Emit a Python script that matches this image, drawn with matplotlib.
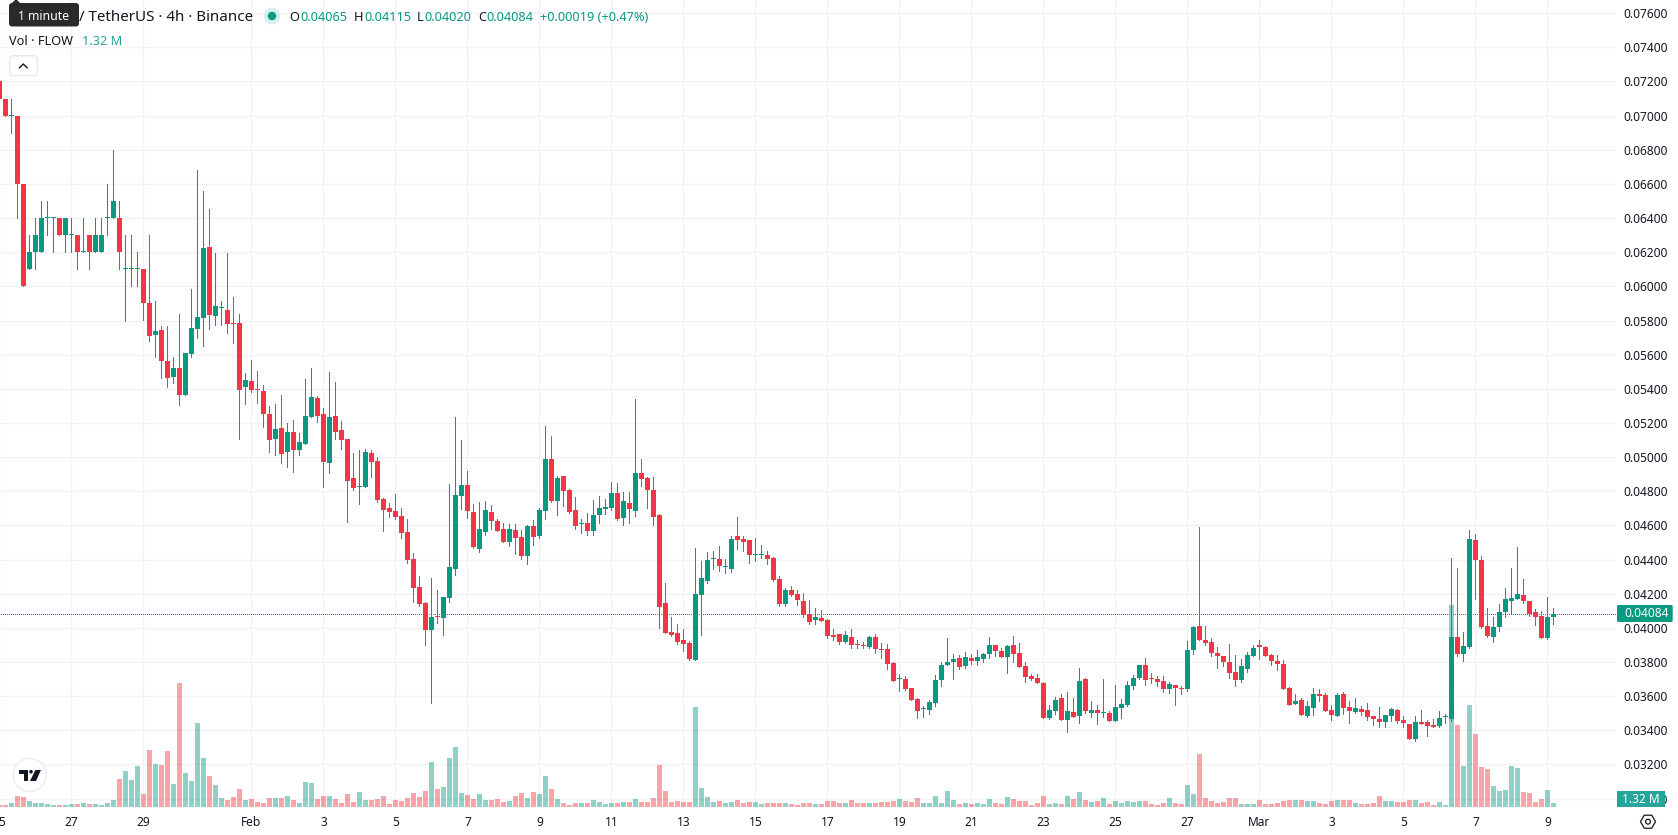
import math

import matplotlib
matplotlib.use("Agg")
import matplotlib.pyplot as plt
from matplotlib.patches import Circle, FancyBboxPatch, Polygon, RegularPolygon, Rectangle

plt.rcParams["font.family"] = ["Noto Sans", "DejaVu Sans"]

# FLOW / USDT 4h candles, prices in units of 0.00001
opens = [
    7200, 7100, 7000, 7000, 6600, 6100, 6200, 6200, 6400, 6400,
    6400, 6300, 6300, 6300, 6200, 6300, 6200, 6200, 6400, 6400,
    6400, 6100, 6100, 6100, 6100, 5900, 5715, 5744, 5562, 5468,
    5521, 5363, 5603, 5750, 5814, 6232, 5826, 5871, 5861, 5784,
    5785, 5410, 5445, 5397, 5386, 5251, 5105, 5169, 5028, 5146,
    5040, 5075, 5233, 5345, 5251, 4964, 5239, 5157, 5105, 4876,
    4827, 4823, 5023, 4976, 4753, 4700, 4682, 4653, 4559, 4404,
    4240, 4146, 3988, 4063, 4058, 4175, 4345, 4773, 4838, 4680,
    4463, 4562, 4680, 4627, 4580, 4504, 4574, 4533, 4422, 4597,
    4539, 4685, 4990, 4744, 4891, 4809, 4691, 4607, 4615, 4568,
    4662, 4697, 4703, 4791, 4645, 4732, 4685, 4908, 4879, 4809,
    4662, 4146, 3976, 3970, 3929, 3911, 3812, 4193, 4275, 4402,
    4404, 4355, 4345, 4539, 4521, 4515, 4425, 4425, 4427, 4410,
    4287, 4140, 4222, 4199, 4158, 4081, 4046, 4058, 4046, 3958,
    3964, 3917, 3946, 3904, 3898, 3888, 3946, 3875, 3876, 3794,
    3698, 3700, 3647, 3583, 3522, 3518, 3559, 3694, 3782, 3800,
    3823, 3776, 3823, 3806, 3817, 3847, 3900, 3864, 3829, 3900,
    3853, 3776, 3718, 3706, 3677, 3471, 3512, 3589, 3460, 3506,
    3483, 3700, 3500, 3518, 3499, 3500, 3454, 3530, 3547, 3659,
    3706, 3782, 3705, 3700, 3688, 3641, 3665, 3646, 3641, 3870,
    4011, 3929, 3917, 3853, 3835, 3800, 3741, 3694, 3759, 3835,
    3900, 3888, 3841, 3806, 3788, 3647, 3553, 3577, 3483, 3530,
    3612, 3606, 3518, 3483, 3612, 3536, 3506, 3524, 3518, 3483,
    3465, 3448, 3483, 3518, 3460, 3436, 3348, 3448, 3448, 3430,
    3424, 3475, 3465, 3946, 3846, 3887, 4515, 4398, 4011, 3946,
    4005, 4093, 4158, 4170, 4193, 4158, 4093, 4070, 3941, 4065,
]
highs = [
    7200, 7100, 7100, 7000, 6600, 6300, 6400, 6500, 6500, 6400,
    6400, 6400, 6400, 6300, 6400, 6300, 6400, 6400, 6600, 6800,
    6500, 6300, 6300, 6200, 6100, 6300, 5914, 5767, 5767, 5586,
    5838, 5609, 5984, 6683, 6560, 6455, 6197, 5914, 6197, 5937,
    5838, 5492, 5568, 5504, 5421, 5298, 5310, 5363, 5198, 5216,
    5140, 5456, 5521, 5357, 5286, 5498, 5439, 5210, 5105, 5023,
    5040, 5046, 5040, 4999, 4759, 4729, 4782, 4700, 4635, 4439,
    4304, 4152, 4292, 4222, 4181, 4844, 5237, 5102, 4920, 4726,
    4738, 4744, 4721, 4638, 4615, 4609, 4609, 4574, 4603, 4632,
    4703, 5184, 5125, 4891, 4891, 4814, 4768, 4638, 4674, 4750,
    4773, 4756, 4856, 4850, 4797, 4797, 5342, 4990, 4885, 4885,
    4668, 4263, 4064, 4023, 3993, 3923, 4468, 4392, 4445, 4451,
    4480, 4404, 4539, 4650, 4539, 4515, 4527, 4486, 4451, 4416,
    4304, 4234, 4246, 4222, 4205, 4163, 4117, 4105, 4052, 3993,
    3964, 3982, 3993, 3929, 3917, 3952, 3964, 3911, 3905, 3800,
    3729, 3718, 3647, 3589, 3542, 3577, 3724, 3800, 3941, 3847,
    3841, 3858, 3847, 3870, 3853, 3946, 3900, 3882, 3900, 3952,
    3911, 3800, 3729, 3729, 3682, 3548, 3595, 3612, 3624, 3589,
    3765, 3706, 3571, 3548, 3700, 3512, 3665, 3583, 3688, 3724,
    3782, 3823, 3735, 3718, 3718, 3682, 3665, 3659, 3923, 4011,
    4592, 4011, 3941, 3888, 3835, 3905, 3841, 3817, 3858, 3900,
    3929, 3894, 3847, 3841, 3812, 3653, 3612, 3589, 3571, 3647,
    3641, 3618, 3548, 3618, 3624, 3571, 3589, 3542, 3559, 3483,
    3536, 3489, 3530, 3524, 3483, 3436, 3483, 3518, 3460, 3465,
    3512, 3495, 4410, 4352, 3975, 4574, 4551, 4421, 4117, 4064,
    4140, 4234, 4352, 4474, 4287, 4158, 4111, 4099, 4181, 4115,
]
lows = [
    7100, 7000, 6900, 6400, 6000, 6100, 6100, 6200, 6300, 6200,
    6300, 6200, 6200, 6100, 6200, 6100, 6200, 6200, 6300, 6400,
    6100, 5800, 6000, 6000, 5803, 5680, 5586, 5462, 5410, 5433,
    5304, 5363, 5586, 5697, 5650, 5750, 5773, 5773, 5726, 5668,
    5105, 5310, 5380, 5316, 5175, 5028, 5011, 4964, 4940, 4911,
    5011, 5075, 5233, 5204, 4823, 4905, 5105, 5046, 4618, 4806,
    4723, 4823, 4882, 4735, 4565, 4647, 4635, 4524, 4377, 4152,
    4128, 3900, 3560, 4029, 3958, 4152, 4310, 4697, 4645, 4468,
    4445, 4545, 4580, 4568, 4504, 4480, 4433, 4404, 4375, 4486,
    4527, 4638, 4738, 4660, 4715, 4674, 4580, 4556, 4545, 4545,
    4615, 4668, 4691, 4633, 4603, 4615, 4656, 4832, 4703, 4603,
    3999, 3970, 3952, 3905, 3864, 3812, 3812, 3958, 4263, 4345,
    4334, 4322, 4328, 4463, 4451, 4380, 4392, 4410, 4375, 4275,
    4128, 4128, 4187, 4134, 4064, 4023, 4023, 4040, 3941, 3929,
    3905, 3911, 3882, 3882, 3882, 3882, 3853, 3823, 3759, 3688,
    3630, 3635, 3577, 3471, 3477, 3495, 3542, 3659, 3782, 3700,
    3759, 3765, 3788, 3782, 3800, 3823, 3835, 3829, 3735, 3800,
    3770, 3682, 3694, 3677, 3471, 3465, 3495, 3460, 3389, 3477,
    3442, 3500, 3477, 3436, 3477, 3454, 3454, 3471, 3542, 3641,
    3700, 3665, 3677, 3659, 3624, 3618, 3548, 3612, 3630, 3847,
    3929, 3900, 3835, 3765, 3776, 3706, 3659, 3682, 3741, 3835,
    3817, 3835, 3782, 3753, 3641, 3548, 3553, 3489, 3477, 3489,
    3571, 3512, 3460, 3483, 3495, 3442, 3500, 3489, 3460, 3430,
    3418, 3418, 3454, 3442, 3418, 3348, 3337, 3436, 3366, 3418,
    3418, 3442, 3454, 3835, 3805, 3881, 4168, 3999, 3946, 3917,
    3982, 4064, 4081, 4170, 4146, 4070, 4017, 3941, 3935, 4020,
]
closes = [
    7100, 7000, 7000, 6600, 6000, 6200, 6300, 6400, 6400, 6400,
    6300, 6400, 6300, 6200, 6200, 6200, 6300, 6300, 6400, 6500,
    6200, 6100, 6100, 6100, 5900, 5710, 5740, 5562, 5462, 5521,
    5363, 5609, 5756, 5820, 6226, 5832, 5885, 5871, 5779, 5782,
    5392, 5451, 5392, 5395, 5251, 5099, 5163, 5017, 5146, 5040,
    5087, 5239, 5350, 5239, 4970, 5233, 5146, 5099, 4858, 4817,
    4827, 5028, 4970, 4747, 4688, 4676, 4647, 4553, 4395, 4234,
    4140, 3988, 4064, 4061, 4181, 4357, 4779, 4838, 4685, 4474,
    4580, 4691, 4627, 4568, 4504, 4580, 4527, 4422, 4597, 4533,
    4691, 4990, 4744, 4879, 4803, 4680, 4597, 4607, 4568, 4662,
    4703, 4709, 4791, 4638, 4744, 4697, 4908, 4873, 4809, 4650,
    4122, 3970, 3958, 3917, 3905, 3817, 4199, 4292, 4398, 4402,
    4363, 4355, 4521, 4515, 4504, 4427, 4425, 4425, 4404, 4281,
    4140, 4222, 4193, 4163, 4075, 4034, 4064, 4040, 3952, 3946,
    3917, 3958, 3900, 3902, 3896, 3946, 3876, 3873, 3788, 3688,
    3698, 3641, 3577, 3512, 3522, 3565, 3694, 3782, 3800, 3817,
    3770, 3829, 3806, 3829, 3847, 3900, 3864, 3829, 3894, 3847,
    3770, 3712, 3700, 3677, 3471, 3518, 3577, 3460, 3512, 3477,
    3688, 3512, 3518, 3500, 3499, 3454, 3536, 3553, 3665, 3706,
    3782, 3694, 3703, 3682, 3641, 3671, 3647, 3644, 3870, 4005,
    3929, 3911, 3853, 3835, 3800, 3735, 3694, 3776, 3841, 3882,
    3888, 3835, 3806, 3788, 3641, 3548, 3571, 3489, 3542, 3612,
    3600, 3512, 3489, 3606, 3530, 3512, 3530, 3506, 3477, 3465,
    3448, 3489, 3524, 3454, 3442, 3348, 3448, 3436, 3424, 3418,
    3471, 3475, 3946, 3846, 3893, 4521, 4398, 4005, 3952, 4005,
    4093, 4170, 4176, 4199, 4158, 4081, 4064, 3941, 4064, 4084,
]
# Volume of each candle, in millions of FLOW
volumes = [
    0.66, 0.66, 1.32, 3.63, 3.30, 1.98, 1.32, 1.32, 0.99, 0.66,
    0.66, 0.66, 0.99, 0.99, 1.32, 0.99, 0.99, 0.66, 1.32, 2.31,
    9.24, 11.88, 8.91, 13.53, 4.29, 18.81, 14.19, 13.86, 18.48, 7.59,
    40.92, 11.22, 8.58, 27.72, 16.17, 10.23, 7.26, 2.97, 2.31, 3.30,
    5.94, 2.31, 2.64, 1.65, 1.32, 2.97, 2.97, 2.97, 3.63, 2.31,
    1.32, 8.25, 7.92, 2.64, 3.63, 3.63, 2.64, 1.32, 4.29, 1.65,
    4.95, 2.31, 2.31, 2.64, 3.63, 0.99, 2.31, 1.98, 2.97, 4.62,
    3.30, 5.28, 14.85, 5.94, 6.60, 16.17, 19.80, 4.62, 3.96, 2.64,
    4.29, 2.31, 2.31, 2.64, 1.65, 1.98, 3.63, 4.62, 2.97, 4.95,
    4.29, 10.23, 5.94, 2.64, 1.32, 0.66, 1.32, 1.32, 1.32, 2.31,
    1.65, 0.99, 1.32, 1.32, 1.65, 1.65, 2.64, 1.65, 1.65, 2.97,
    13.86, 5.28, 1.65, 1.98, 1.65, 1.65, 33.00, 6.27, 3.30, 1.65,
    1.98, 1.32, 1.65, 2.31, 1.32, 1.65, 1.65, 0.99, 1.32, 1.32,
    1.32, 1.32, 0.99, 0.66, 1.32, 1.32, 0.99, 0.99, 1.98, 1.98,
    1.32, 1.32, 2.31, 1.32, 1.32, 1.32, 1.32, 1.65, 1.65, 1.98,
    2.64, 1.98, 1.65, 2.97, 1.32, 1.32, 3.63, 1.32, 5.28, 2.31,
    0.99, 1.32, 0.99, 1.32, 0.99, 2.64, 1.32, 0.99, 3.30, 2.64,
    1.98, 1.98, 0.66, 1.32, 3.63, 0.99, 1.32, 0.99, 3.63, 2.64,
    4.95, 2.31, 1.65, 1.98, 2.97, 0.99, 1.98, 1.32, 1.98, 1.65,
    1.98, 1.98, 0.99, 0.66, 1.32, 2.97, 1.32, 0.99, 7.26, 4.29,
    17.49, 2.97, 1.98, 1.32, 1.65, 2.97, 2.97, 0.99, 0.99, 0.99,
    2.31, 0.99, 0.99, 1.32, 1.98, 2.31, 2.31, 2.31, 1.98, 1.98,
    1.32, 0.99, 1.98, 2.31, 2.31, 2.31, 1.32, 0.99, 0.99, 1.32,
    3.63, 1.98, 1.98, 1.65, 1.65, 2.31, 2.31, 1.32, 1.65, 0.66,
    1.65, 0.66, 66.66, 27.06, 13.53, 33.66, 24.09, 13.20, 12.54, 6.93,
    5.28, 5.61, 13.53, 12.87, 4.95, 4.62, 1.65, 2.64, 5.61, 1.32,
]
date_ticks = [0, 12, 24, 42, 54, 66, 78, 90, 102, 114, 126, 138, 150, 162, 174,
              186, 198, 210, 222, 234, 246, 258]
date_labels = ["25", "27", "29", "Feb", "3", "5", "7", "9", "11", "13", "15", "17",
               "19", "21", "23", "25", "27", "Mar", "3", "5", "7", "9"]
price_ticks = [0.030 + 0.002 * i for i in range(24)]

PRICE_UNIT = 1e-5
GREEN = "#089981"
RED = "#f23645"
GRID = "#f1f2f4"
INK = "#131722"

W, H = 1678, 835
fig = plt.figure(figsize=(W / 100, H / 100), dpi=100, facecolor="white")

# Pane geometry: candle spacing 6 px, price scale 17.075 px per 0.001
PANE_LEFT, PANE_RIGHT, PANE_BOTTOM = -6, 1616, 808
PX_PER_PRICE = 17075.0
REF_PRICE, REF_Y = 0.034, 730.3
pos = [PANE_LEFT / W, 1 - PANE_BOTTOM / H, (PANE_RIGHT - PANE_LEFT) / W, PANE_BOTTOM / H]
xlim = ((PANE_LEFT + 0.5) / 6, (PANE_RIGHT + 0.5) / 6)
ylim = (REF_PRICE - (PANE_BOTTOM - REF_Y) / PX_PER_PRICE, REF_PRICE + REF_Y / PX_PER_PRICE)

# Base pane: gridlines and both scales
ax = fig.add_axes(pos, zorder=1)
ax.set_xlim(xlim)
ax.set_ylim(ylim)
for s in ax.spines.values():
    s.set_visible(False)
ax.set_axisbelow(True)
ax.grid(True, color=GRID, linewidth=1.0)
ax.set_xticks(date_ticks)
ax.set_xticklabels(date_labels, fontsize=8.6, color=INK)
for lab, txt in zip(ax.get_xticklabels(), date_labels):
    if txt in ("Feb", "Mar"):
        lab.set_fontweight("bold")
ax.yaxis.tick_right()
ax.set_yticks(price_ticks)
ax.set_yticklabels([f"{p:.5f}" for p in price_ticks], fontsize=8.6, color=INK)
ax.tick_params(axis="x", length=0, pad=5.5)
ax.tick_params(axis="y", length=0, pad=5.5)
ax.set_xlim(xlim)
ax.set_ylim(ylim)

directions = [GREEN if c >= o else RED for o, c in zip(opens, closes)]
idx = list(range(len(opens)))

# Volume histogram, anchored to the bottom of the pane
ax_vol = fig.add_axes(pos, zorder=2, sharex=ax)
ax_vol.patch.set_visible(False)
ax_vol.axis("off")
ax_vol.set_ylim(-1 * 0.33, 807 * 0.33)
ax_vol.bar(idx, volumes, width=5 / 6, color=directions, alpha=0.45, linewidth=0, antialiased=False)
ax_vol.set_xlim(xlim)

# Candles and the last-price line
ax_c = fig.add_axes(pos, zorder=3, sharex=ax, sharey=ax)
ax_c.patch.set_visible(False)
ax_c.axis("off")
last_close = closes[-1] * PRICE_UNIT
ax_c.axhline(last_close, color=GREEN, linewidth=0.72, linestyle=(0, (1, 2)), antialiased=False)
ax_c.vlines(idx, [v * PRICE_UNIT for v in lows], [v * PRICE_UNIT for v in highs],
            colors=directions, linewidth=0.5, antialiased=False)
min_body = 1.0 / PX_PER_PRICE
body_low = [min(o, c) * PRICE_UNIT for o, c in zip(opens, closes)]
body_height = [max(abs(o - c) * PRICE_UNIT, min_body) for o, c in zip(opens, closes)]
ax_c.bar(idx, body_height, bottom=body_low, width=5 / 6, color=directions, linewidth=0, antialiased=False)
ax_c.set_xlim(xlim)
ax_c.set_ylim(ylim)

# Interface layer in pixel coordinates
ui = fig.add_axes([0, 0, 1, 1], zorder=5)
ui.patch.set_visible(False)
ui.axis("off")
ui.set_xlim(0, W)
ui.set_ylim(H, 0)


def label(x, y, s, color=INK, size=9.2, ha="left", **kw):
    ui.text(x, y, s, color=color, fontsize=size, ha=ha, va="center", **kw)


# Legend row
label(79, 17.8, "/ TetherUS · 4h · Binance", size=10.9)
ui.add_patch(Circle((272, 16), 8.5, facecolor="#d8efeb", edgecolor="none"))
ui.add_patch(Circle((272, 16), 4.2, facecolor=GREEN, edgecolor="none"))
o_last, h_last, l_last, c_last = opens[-1], highs[-1], lows[-1], closes[-1]
change = (c_last - opens[-1]) * PRICE_UNIT
pct = change / (opens[-1] * PRICE_UNIT) * 100
for kx, k, vx, v in [(289, "O", 300, o_last), (353.5, "H", 364, h_last),
                     (417, "L", 424.5, l_last), (478, "C", 486.5, c_last)]:
    label(kx, 17.5, k)
    label(vx, 17.5, f"{v * PRICE_UNIT:.5f}", color=GREEN)
label(540, 17.5, f"+{change:.5f} (+{pct:.2f}%)", color=GREEN)
label(9, 41.5, "Vol · FLOW", size=9.2)
label(81.5, 41.5, f"{volumes[-1]:.2f} M", color="#26a69a", size=9.2)

# Collapse button
ui.add_patch(FancyBboxPatch((9.8, 55.8), 27.4, 20, boxstyle="round,pad=0,rounding_size=3",
                            facecolor="white", edgecolor="#e0e3eb", linewidth=0.8))
ui.plot([19.5, 23.3, 27.1], [67.8, 64, 67.8], color=INK, linewidth=1.0)

# Tooltip
ui.add_patch(FancyBboxPatch((9, 3), 70, 23.5, boxstyle="round,pad=0,rounding_size=3",
                            facecolor="#2a2a2a", edgecolor="none"))
ui.add_patch(Polygon([(11, 4), (16, -1), (21, 4)], facecolor="#2a2a2a", edgecolor="none"))
label(43.5, 16, "1 minute", color="white", size=8.8, ha="center")

# Price and volume badges on the scale
ui.add_patch(FancyBboxPatch((1617, 605), 55.7, 17, boxstyle="round,pad=0,rounding_size=1.5",
                            facecolor=GREEN, edgecolor="none"))
label(1624, 613.6, f"{last_close:.5f}", color="white", size=8.6)
ui.add_patch(Rectangle((1617, 791), 48, 16, facecolor="#26a69a", edgecolor="none"))
label(1641, 799.2, f"{volumes[-1]:.2f} M", color="white", size=8.6, ha="center")

# Settings icon
ui.add_patch(RegularPolygon((1648, 821.7), 6, radius=7.5, orientation=math.pi / 6,
                            facecolor="none", edgecolor=INK, linewidth=0.9))
ui.add_patch(Circle((1648, 821.7), 2.4, facecolor="none", edgecolor=INK, linewidth=0.9))

# Logo badge
ui.add_patch(Circle((29.6, 775), 16.5, facecolor="white", edgecolor="#ebebeb", linewidth=1.0))
ui.add_patch(Polygon([(18.9, 770), (28.2, 770), (28.2, 781), (23.6, 781), (23.6, 774), (18.9, 774)],
                     facecolor="#131722", edgecolor="none"))
ui.add_patch(Circle((31, 771.7), 1.8, facecolor="#131722", edgecolor="none"))
ui.add_patch(Polygon([(35.4, 770), (41, 770), (36, 781), (30, 781)], facecolor="#131722", edgecolor="none"))

fig.savefig("out.png", dpi=100, facecolor="white")
